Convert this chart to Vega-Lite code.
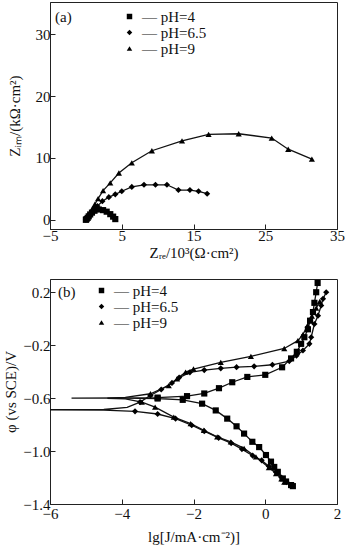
{
  "$schema": "https://vega.github.io/schema/vega-lite/v6.json",
  "background": "white",
  "padding": {"left": 3, "top": 1, "right": 0, "bottom": 0},
  "spacing": 17,
  "config": {
    "font": "Liberation Serif",
    "view": {"stroke": "#222", "strokeWidth": 1},
    "axis": {
      "grid": false, "domainColor": "#222", "tickColor": "#222", "tickSize": -5, "labelFlush": false,
      "labelFont": "Liberation Serif", "labelFontSize": 15, "labelColor": "#111",
      "titleFont": "Liberation Serif", "titleFontSize": 15, "titleFontWeight": "normal", "titleColor": "#111",
      "labelPadding": 5
    },
    "legend": {
      "labelFont": "Liberation Serif", "labelFontSize": 15, "labelColor": "#111",
      "padding": 0, "rowPadding": 0, "symbolFillColor": "black", "symbolStrokeColor": "black",
      "symbolSize": 30, "labelOffset": 5, "title": null
    }
  },
  "datasets": {
    "nyq": [
      {"pH": "pH=4", "i": 1, "zre": 0.0, "zim": 0.0},
      {"pH": "pH=4", "i": 2, "zre": 0.1, "zim": 0.1},
      {"pH": "pH=4", "i": 3, "zre": 0.25, "zim": 0.3},
      {"pH": "pH=4", "i": 4, "zre": 0.4, "zim": 0.55},
      {"pH": "pH=4", "i": 5, "zre": 0.6, "zim": 0.85},
      {"pH": "pH=4", "i": 6, "zre": 0.85, "zim": 1.15},
      {"pH": "pH=4", "i": 7, "zre": 1.2, "zim": 1.45},
      {"pH": "pH=4", "i": 8, "zre": 1.8, "zim": 1.65},
      {"pH": "pH=4", "i": 9, "zre": 2.4, "zim": 1.55},
      {"pH": "pH=4", "i": 10, "zre": 2.9, "zim": 1.3},
      {"pH": "pH=4", "i": 11, "zre": 3.4, "zim": 0.9},
      {"pH": "pH=4", "i": 12, "zre": 3.8, "zim": 0.5},
      {"pH": "pH=4", "i": 13, "zre": 4.1, "zim": 0.1},
      {"pH": "pH=6.5", "i": 1, "zre": 0.0, "zim": 0.0},
      {"pH": "pH=6.5", "i": 2, "zre": 0.15, "zim": 0.2},
      {"pH": "pH=6.5", "i": 3, "zre": 0.35, "zim": 0.5},
      {"pH": "pH=6.5", "i": 4, "zre": 0.6, "zim": 0.9},
      {"pH": "pH=6.5", "i": 5, "zre": 0.9, "zim": 1.3},
      {"pH": "pH=6.5", "i": 6, "zre": 1.2, "zim": 1.75},
      {"pH": "pH=6.5", "i": 7, "zre": 1.6, "zim": 2.2},
      {"pH": "pH=6.5", "i": 8, "zre": 2.3, "zim": 3.0},
      {"pH": "pH=6.5", "i": 9, "zre": 3.2, "zim": 3.65},
      {"pH": "pH=6.5", "i": 10, "zre": 4.1, "zim": 4.1},
      {"pH": "pH=6.5", "i": 11, "zre": 5.0, "zim": 4.6},
      {"pH": "pH=6.5", "i": 12, "zre": 6.4, "zim": 5.3},
      {"pH": "pH=6.5", "i": 13, "zre": 8.1, "zim": 5.65},
      {"pH": "pH=6.5", "i": 14, "zre": 9.7, "zim": 5.65},
      {"pH": "pH=6.5", "i": 15, "zre": 11.3, "zim": 5.65},
      {"pH": "pH=6.5", "i": 16, "zre": 12.9, "zim": 4.8},
      {"pH": "pH=6.5", "i": 17, "zre": 14.5, "zim": 4.8},
      {"pH": "pH=6.5", "i": 18, "zre": 15.7, "zim": 4.6},
      {"pH": "pH=6.5", "i": 19, "zre": 16.9, "zim": 4.2},
      {"pH": "pH=9", "i": 1, "zre": 0.0, "zim": 0.0},
      {"pH": "pH=9", "i": 2, "zre": 0.15, "zim": 0.3},
      {"pH": "pH=9", "i": 3, "zre": 0.35, "zim": 0.7},
      {"pH": "pH=9", "i": 4, "zre": 0.6, "zim": 1.2},
      {"pH": "pH=9", "i": 5, "zre": 0.9, "zim": 1.8},
      {"pH": "pH=9", "i": 6, "zre": 1.25, "zim": 2.5},
      {"pH": "pH=9", "i": 7, "zre": 1.7, "zim": 3.4},
      {"pH": "pH=9", "i": 8, "zre": 2.4, "zim": 4.7},
      {"pH": "pH=9", "i": 9, "zre": 3.4, "zim": 5.95},
      {"pH": "pH=9", "i": 10, "zre": 4.6, "zim": 7.55},
      {"pH": "pH=9", "i": 11, "zre": 6.4, "zim": 9.2},
      {"pH": "pH=9", "i": 12, "zre": 9.2, "zim": 11.15},
      {"pH": "pH=9", "i": 13, "zre": 13.4, "zim": 12.75},
      {"pH": "pH=9", "i": 14, "zre": 17.1, "zim": 13.8},
      {"pH": "pH=9", "i": 15, "zre": 21.3, "zim": 13.9},
      {"pH": "pH=9", "i": 16, "zre": 25.9, "zim": 13.2},
      {"pH": "pH=9", "i": 17, "zre": 28.2, "zim": 11.4},
      {"pH": "pH=9", "i": 18, "zre": 31.5, "zim": 9.8}
    ],
    "pol": [
      {"pH": "pH=4", "i": 1, "lgj": 0.77, "phi": -1.265},
      {"pH": "pH=4", "i": 2, "lgj": 0.72, "phi": -1.257},
      {"pH": "pH=4", "i": 3, "lgj": 0.58, "phi": -1.23},
      {"pH": "pH=4", "i": 4, "lgj": 0.49, "phi": -1.207},
      {"pH": "pH=4", "i": 5, "lgj": 0.35, "phi": -1.157},
      {"pH": "pH=4", "i": 6, "lgj": 0.25, "phi": -1.12},
      {"pH": "pH=4", "i": 7, "lgj": 0.16, "phi": -1.08},
      {"pH": "pH=4", "i": 8, "lgj": 0.02, "phi": -1.03},
      {"pH": "pH=4", "i": 9, "lgj": -0.17, "phi": -0.97},
      {"pH": "pH=4", "i": 10, "lgj": -0.36, "phi": -0.93},
      {"pH": "pH=4", "i": 11, "lgj": -0.59, "phi": -0.868},
      {"pH": "pH=4", "i": 12, "lgj": -0.8, "phi": -0.813},
      {"pH": "pH=4", "i": 13, "lgj": -1.06, "phi": -0.755},
      {"pH": "pH=4", "i": 14, "lgj": -1.38, "phi": -0.693},
      {"pH": "pH=4", "i": 15, "lgj": -1.76, "phi": -0.642},
      {"pH": "pH=4", "i": 16, "lgj": -2.3, "phi": -0.613},
      {"pH": "pH=4", "i": 17, "lgj": -3.0, "phi": -0.603},
      {"pH": "pH=4", "i": 18, "lgj": -4.0, "phi": -0.6},
      {"pH": "pH=4", "i": 19, "lgj": -5.4, "phi": -0.6},
      {"pH": "pH=4", "i": 20, "lgj": -4.0, "phi": -0.599},
      {"pH": "pH=4", "i": 21, "lgj": -3.0, "phi": -0.596},
      {"pH": "pH=4", "i": 22, "lgj": -2.18, "phi": -0.585},
      {"pH": "pH=4", "i": 23, "lgj": -1.7, "phi": -0.565},
      {"pH": "pH=4", "i": 24, "lgj": -1.29, "phi": -0.525},
      {"pH": "pH=4", "i": 25, "lgj": -0.92, "phi": -0.48},
      {"pH": "pH=4", "i": 26, "lgj": -0.5, "phi": -0.44},
      {"pH": "pH=4", "i": 27, "lgj": 0.0, "phi": -0.424},
      {"pH": "pH=4", "i": 28, "lgj": 0.47, "phi": -0.367},
      {"pH": "pH=4", "i": 29, "lgj": 0.72, "phi": -0.3},
      {"pH": "pH=4", "i": 30, "lgj": 0.88, "phi": -0.25},
      {"pH": "pH=4", "i": 31, "lgj": 1.0, "phi": -0.19},
      {"pH": "pH=4", "i": 32, "lgj": 1.09, "phi": -0.14},
      {"pH": "pH=4", "i": 33, "lgj": 1.19, "phi": -0.08},
      {"pH": "pH=4", "i": 34, "lgj": 1.25, "phi": -0.015},
      {"pH": "pH=4", "i": 35, "lgj": 1.33, "phi": 0.05},
      {"pH": "pH=4", "i": 36, "lgj": 1.37, "phi": 0.12},
      {"pH": "pH=4", "i": 37, "lgj": 1.42, "phi": 0.2},
      {"pH": "pH=4", "i": 38, "lgj": 1.46, "phi": 0.27},
      {"pH": "pH=6.5", "i": 1, "lgj": 0.72, "phi": -1.26},
      {"pH": "pH=6.5", "i": 2, "lgj": 0.6, "phi": -1.235},
      {"pH": "pH=6.5", "i": 3, "lgj": 0.45, "phi": -1.2},
      {"pH": "pH=6.5", "i": 4, "lgj": 0.3, "phi": -1.16},
      {"pH": "pH=6.5", "i": 5, "lgj": 0.1, "phi": -1.115},
      {"pH": "pH=6.5", "i": 6, "lgj": -0.1, "phi": -1.07},
      {"pH": "pH=6.5", "i": 7, "lgj": -0.35, "phi": -1.035},
      {"pH": "pH=6.5", "i": 8, "lgj": -0.65, "phi": -0.985},
      {"pH": "pH=6.5", "i": 9, "lgj": -0.95, "phi": -0.94},
      {"pH": "pH=6.5", "i": 10, "lgj": -1.3, "phi": -0.9},
      {"pH": "pH=6.5", "i": 11, "lgj": -1.7, "phi": -0.85},
      {"pH": "pH=6.5", "i": 12, "lgj": -2.05, "phi": -0.805},
      {"pH": "pH=6.5", "i": 13, "lgj": -2.5, "phi": -0.755},
      {"pH": "pH=6.5", "i": 14, "lgj": -3.0, "phi": -0.72},
      {"pH": "pH=6.5", "i": 15, "lgj": -3.63, "phi": -0.7},
      {"pH": "pH=6.5", "i": 16, "lgj": -4.5, "phi": -0.69},
      {"pH": "pH=6.5", "i": 17, "lgj": -6.0, "phi": -0.688},
      {"pH": "pH=6.5", "i": 18, "lgj": -4.5, "phi": -0.686},
      {"pH": "pH=6.5", "i": 19, "lgj": -3.85, "phi": -0.67},
      {"pH": "pH=6.5", "i": 20, "lgj": -3.49, "phi": -0.63},
      {"pH": "pH=6.5", "i": 21, "lgj": -3.2, "phi": -0.58},
      {"pH": "pH=6.5", "i": 22, "lgj": -2.9, "phi": -0.535},
      {"pH": "pH=6.5", "i": 23, "lgj": -2.6, "phi": -0.485},
      {"pH": "pH=6.5", "i": 24, "lgj": -2.4, "phi": -0.445},
      {"pH": "pH=6.5", "i": 25, "lgj": -2.1, "phi": -0.405},
      {"pH": "pH=6.5", "i": 26, "lgj": -1.7, "phi": -0.388},
      {"pH": "pH=6.5", "i": 27, "lgj": -1.24, "phi": -0.375},
      {"pH": "pH=6.5", "i": 28, "lgj": -0.8, "phi": -0.366},
      {"pH": "pH=6.5", "i": 29, "lgj": -0.31, "phi": -0.36},
      {"pH": "pH=6.5", "i": 30, "lgj": 0.2, "phi": -0.348},
      {"pH": "pH=6.5", "i": 31, "lgj": 0.67, "phi": -0.32},
      {"pH": "pH=6.5", "i": 32, "lgj": 0.87, "phi": -0.28},
      {"pH": "pH=6.5", "i": 33, "lgj": 1.05, "phi": -0.24},
      {"pH": "pH=6.5", "i": 34, "lgj": 1.23, "phi": -0.19},
      {"pH": "pH=6.5", "i": 35, "lgj": 1.28, "phi": -0.14},
      {"pH": "pH=6.5", "i": 36, "lgj": 1.37, "phi": -0.04},
      {"pH": "pH=6.5", "i": 37, "lgj": 1.47, "phi": 0.023},
      {"pH": "pH=6.5", "i": 38, "lgj": 1.56, "phi": 0.1},
      {"pH": "pH=6.5", "i": 39, "lgj": 1.61, "phi": 0.15},
      {"pH": "pH=6.5", "i": 40, "lgj": 1.7, "phi": 0.2},
      {"pH": "pH=9", "i": 1, "lgj": 0.53, "phi": -1.235},
      {"pH": "pH=9", "i": 2, "lgj": 0.45, "phi": -1.21},
      {"pH": "pH=9", "i": 3, "lgj": 0.3, "phi": -1.17},
      {"pH": "pH=9", "i": 4, "lgj": 0.1, "phi": -1.125},
      {"pH": "pH=9", "i": 5, "lgj": -0.26, "phi": -1.044},
      {"pH": "pH=9", "i": 6, "lgj": -0.59, "phi": -0.98},
      {"pH": "pH=9", "i": 7, "lgj": -0.96, "phi": -0.93},
      {"pH": "pH=9", "i": 8, "lgj": -1.34, "phi": -0.893},
      {"pH": "pH=9", "i": 9, "lgj": -1.71, "phi": -0.843},
      {"pH": "pH=9", "i": 10, "lgj": -2.08, "phi": -0.793},
      {"pH": "pH=9", "i": 11, "lgj": -2.55, "phi": -0.743},
      {"pH": "pH=9", "i": 12, "lgj": -3.07, "phi": -0.668},
      {"pH": "pH=9", "i": 13, "lgj": -3.44, "phi": -0.63},
      {"pH": "pH=9", "i": 14, "lgj": -3.9, "phi": -0.606},
      {"pH": "pH=9", "i": 15, "lgj": -4.4, "phi": -0.601},
      {"pH": "pH=9", "i": 16, "lgj": -3.9, "phi": -0.594},
      {"pH": "pH=9", "i": 17, "lgj": -3.2, "phi": -0.567},
      {"pH": "pH=9", "i": 18, "lgj": -2.69, "phi": -0.505},
      {"pH": "pH=9", "i": 19, "lgj": -2.46, "phi": -0.454},
      {"pH": "pH=9", "i": 20, "lgj": -2.22, "phi": -0.404},
      {"pH": "pH=9", "i": 21, "lgj": -2.0, "phi": -0.38},
      {"pH": "pH=9", "i": 22, "lgj": -1.24, "phi": -0.33},
      {"pH": "pH=9", "i": 23, "lgj": -0.4, "phi": -0.284},
      {"pH": "pH=9", "i": 24, "lgj": 0.53, "phi": -0.225},
      {"pH": "pH=9", "i": 25, "lgj": 0.91, "phi": -0.166},
      {"pH": "pH=9", "i": 26, "lgj": 1.05, "phi": -0.12},
      {"pH": "pH=9", "i": 27, "lgj": 1.18, "phi": -0.05},
      {"pH": "pH=9", "i": 28, "lgj": 1.3, "phi": 0.02},
      {"pH": "pH=9", "i": 29, "lgj": 1.42, "phi": 0.08},
      {"pH": "pH=9", "i": 30, "lgj": 1.52, "phi": 0.13}
    ],
    "labels": [
      {"panel": "a", "lab": "(a)", "x": -4.3, "y": 32.8},
      {"panel": "b", "lab": "(b)", "x": -5.78, "y": 0.2}
    ]
  },
  "vconcat": [
    {
      "width": 287,
      "height": 227,
      "layer": [
        {
          "data": {"name": "nyq"},
          "mark": {"type": "line", "color": "#111", "strokeWidth": 1.3},
          "encoding": {
            "x": {"field": "zre", "type": "quantitative", "scale": {"domain": [-5, 35], "nice": false},
              "axis": {"values": [-5, 5, 15, 25, 35], "title": "Zᵣₑ/10³(Ω·cm²)", "titlePadding": 2, "labelPadding": 4}},
            "y": {"field": "zim", "type": "quantitative", "scale": {"domain": [-1.5, 35.2], "nice": false, "zero": false},
              "axis": {"values": [0, 10, 20, 30], "title": "Zᵢₘ/(kΩ·cm²)", "titlePadding": 13}},
            "detail": {"field": "pH"},
            "order": {"field": "i"}
          }
        },
        {
          "data": {"name": "nyq"},
          "mark": {"type": "point", "filled": true, "color": "black", "opacity": 1, "size": 38},
          "encoding": {
            "x": {"field": "zre", "type": "quantitative"},
            "y": {"field": "zim", "type": "quantitative"},
            "shape": {"field": "pH", "type": "nominal", "scale": {"domain": ["pH=4", "pH=6.5", "pH=9"], "range": ["square", "diamond", "triangle-up"]},
              "legend": {"orient": "none", "legendX": 72, "legendY": 7, "labelExpr": "'— ' + datum.label"}}
          }
        },
        {
          "data": {"name": "labels"},
          "transform": [{"filter": "datum.panel == 'a'"}],
          "mark": {"type": "text", "align": "left", "baseline": "middle", "fontSize": 15, "font": "Liberation Serif", "color": "#111"},
          "encoding": {
            "x": {"field": "x", "type": "quantitative"},
            "y": {"field": "y", "type": "quantitative"},
            "text": {"field": "lab"}
          }
        }
      ]
    },
    {
      "width": 287,
      "height": 225,
      "layer": [
        {
          "data": {"name": "pol"},
          "mark": {"type": "line", "color": "#111", "strokeWidth": 1.3},
          "encoding": {
            "x": {"field": "lgj", "type": "quantitative", "scale": {"domain": [-6, 2], "nice": false},
              "axis": {"values": [-6, -4, -2, 0, 2], "title": "lg[J/mA·cm⁻²)]", "titlePadding": 8, "labelPadding": 7}},
            "y": {"field": "phi", "type": "quantitative", "scale": {"domain": [-1.4, 0.3], "nice": false, "zero": false},
              "axis": {"values": [0.2, -0.2, -0.6, -1.0, -1.4], "format": ".1f", "title": "φ (vs SCE)/V", "titlePadding": 4}},
            "detail": {"field": "pH"},
            "order": {"field": "i"}
          }
        },
        {
          "data": {"name": "pol"},
          "transform": [{"filter": "datum.lgj > -3.75"}],
          "mark": {"type": "point", "filled": true, "color": "black", "opacity": 1, "size": 38},
          "encoding": {
            "x": {"field": "lgj", "type": "quantitative"},
            "y": {"field": "phi", "type": "quantitative"},
            "shape": {"field": "pH", "type": "nominal", "scale": {"domain": ["pH=4", "pH=6.5", "pH=9"], "range": ["square", "diamond", "triangle-up"]},
              "legend": {"orient": "none", "legendX": 44, "legendY": 4, "labelExpr": "'— ' + datum.label"}}
          }
        },
        {
          "data": {"name": "labels"},
          "transform": [{"filter": "datum.panel == 'b'"}],
          "mark": {"type": "text", "align": "left", "baseline": "middle", "fontSize": 15, "font": "Liberation Serif", "color": "#111"},
          "encoding": {
            "x": {"field": "x", "type": "quantitative"},
            "y": {"field": "y", "type": "quantitative"},
            "text": {"field": "lab"}
          }
        }
      ]
    }
  ],
  "resolve": {"scale": {"x": "independent", "y": "independent", "shape": "independent"}, "legend": {"shape": "independent"}}
}
